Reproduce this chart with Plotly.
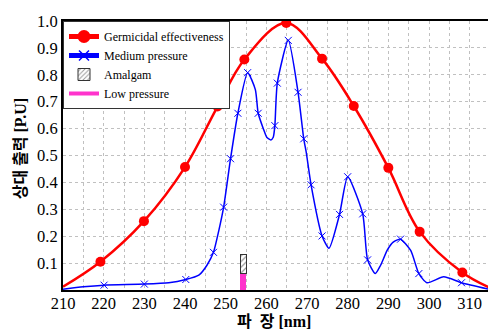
import plotly.graph_objects as go

# Germicidal effectiveness (curve points; first/last are unmarked curve ends)
germ_x = [210, 219.2, 229.9, 240.0, 248.0, 254.6, 264.9, 273.7, 281.5, 290.0, 297.7, 308.2, 315]
germ_y = [0.012, 0.105, 0.256, 0.457, 0.682, 0.857, 0.993, 0.86, 0.684, 0.454, 0.217, 0.065, 0.008]
germ_mark_x = [219.2, 229.9, 240.0, 248.0, 254.6, 264.9, 273.7, 281.5, 290.0, 297.7, 308.2]
germ_mark_y = [0.105, 0.256, 0.457, 0.682, 0.857, 0.993, 0.86, 0.684, 0.454, 0.217, 0.065]

# Medium pressure spectrum (curve readings including unmarked extrema)
med_x = [210, 215, 220.1, 230.0, 236, 240.2, 243.4, 245.4, 247.0, 248.3, 249.5, 251.2, 253.0, 255.4,
         257.3, 258.0, 259.3, 260.1, 261.1, 261.7, 262.1, 262.7, 265.4, 267.8, 269.2, 269.8, 271.0,
         273.7, 275.4, 278.0, 280.0, 283.7, 284.9, 286.8, 288.1, 289.8, 291.2, 293.0, 295.5, 297.5, 299.5,
         303.6, 308.0, 314.7]
med_y = [0.003, 0.012, 0.018, 0.022, 0.027, 0.039, 0.055, 0.092, 0.140, 0.22, 0.308, 0.488, 0.657, 0.808,
         0.745, 0.657, 0.598, 0.568, 0.558, 0.568, 0.611, 0.769, 0.928, 0.735, 0.562, 0.513, 0.391,
         0.201, 0.155, 0.281, 0.421, 0.283, 0.112, 0.061, 0.092, 0.150, 0.178, 0.189, 0.147, 0.061, 0.027,
         0.049, 0.027, 0.003]
med_mark_x = [220.1, 230.0, 240.2, 247.0, 249.5, 251.2, 253.0, 255.4, 258.0, 262.1, 262.7, 265.4,
              267.8, 269.2, 271.0, 273.7, 278.0, 280.0, 283.7, 284.9, 293.0, 297.5, 308.0]
med_mark_y = [0.018, 0.022, 0.039, 0.140, 0.308, 0.488, 0.657, 0.808, 0.657, 0.611, 0.769, 0.928,
              0.735, 0.562, 0.391, 0.201, 0.281, 0.421, 0.283, 0.112, 0.189, 0.061, 0.027]

# Lamp lines (stacked bar at ~254 nm)
bar_x = [254.35]
low_pressure = [0.061]
amalgam = [0.071]

x_ticks = [210, 220, 230, 240, 250, 260, 270, 280, 290, 300, 310]
y_ticks = [0.1, 0.2, 0.3, 0.4, 0.5, 0.6, 0.7, 0.8, 0.9, 1.0]

RED = "#ff0000"
BLUE = "#0000ff"
PINK = "#ff33cc"
SERIF = "Liberation Serif"
TITLE_FONT = "Liberation Serif, Noto Sans CJK KR"

fig = go.Figure()

hatch = dict(shape="/", fgcolor="#333333", bgcolor="white", size=4, solidity=0.3)

# data traces
fig.add_trace(go.Bar(x=bar_x, y=low_pressure, width=1.5, marker=dict(color=PINK, line=dict(width=0)),
                     showlegend=False))
fig.add_trace(go.Bar(x=bar_x, y=amalgam, width=1.5,
                     marker=dict(color="white", line=dict(color="#333333", width=1), pattern=hatch),
                     showlegend=False))
fig.add_trace(go.Scatter(x=germ_x, y=germ_y, mode="lines", line=dict(color=RED, width=2.5, shape="spline", smoothing=1),
                         showlegend=False, hoverinfo="skip"))
fig.add_trace(go.Scatter(x=germ_mark_x, y=germ_mark_y, mode="markers", marker=dict(color=RED, size=10, symbol="circle"),
                         showlegend=False))
fig.add_trace(go.Scatter(x=med_x, y=med_y, mode="lines", line=dict(color=BLUE, width=1.5, shape="spline", smoothing=0.6),
                         showlegend=False, hoverinfo="skip"))
fig.add_trace(go.Scatter(x=med_mark_x, y=med_mark_y, mode="markers",
                         marker=dict(color=BLUE, size=7, symbol="x-thin", line=dict(color=BLUE, width=1)),
                         showlegend=False))

# legend-only traces
fig.add_trace(go.Scatter(x=[None], y=[None], mode="lines+markers", name="Germicidal effectiveness",
                         line=dict(color=RED, width=5), marker=dict(color=RED, size=13)))
fig.add_trace(go.Scatter(x=[None], y=[None], mode="lines+markers", name="Medium pressure",
                         line=dict(color=BLUE, width=5),
                         marker=dict(color=BLUE, size=10, symbol="x-thin", line=dict(color=BLUE, width=1.5))))
fig.add_trace(go.Bar(x=[None], y=[None], name="Amalgam",
                     marker=dict(color="white", line=dict(color="#333333", width=1), pattern=hatch)))
fig.add_trace(go.Scatter(x=[None], y=[None], mode="lines", name="Low pressure", line=dict(color=PINK, width=4)))

# page body has an 8px default margin, so the figure is sized/offset to fit the 496x329 window
fig.update_layout(
    width=488, height=321,
    margin=dict(l=55, r=4, t=9, b=39),
    paper_bgcolor="white", plot_bgcolor="white",
    barmode="stack",
    font=dict(family=SERIF, color="black"),
    legend=dict(x=0, y=1, xanchor="left", yanchor="top", traceorder="normal",
                bgcolor="white", bordercolor="#333333", borderwidth=1,
                font=dict(family=SERIF, size=12, color="black"),
                itemwidth=30, tracegroupgap=0),
    xaxis=dict(range=[210, 315], tickvals=x_ticks, ticks="", tickfont=dict(size=16.5, family=SERIF),
               ticklabelstandoff=-3, ticklabeloverflow="allow",
               showgrid=True, gridcolor="#c0c0c0", griddash="dot", gridwidth=1,
               minor=dict(dtick=5, tick0=210, showgrid=True, gridcolor="#c0c0c0", griddash="dot", gridwidth=1),
               showline=True, linecolor="black", linewidth=2, mirror=True, zeroline=False),
    yaxis=dict(range=[0, 1.0], tickvals=y_ticks, ticktext=[f"{v:.1f}" for v in y_ticks], ticks="",
               tickfont=dict(size=16.5, family=SERIF), ticklabeloverflow="allow",
               showgrid=True, gridcolor="#c0c0c0", griddash="dot", gridwidth=1,
               showline=True, linecolor="black", linewidth=2, mirror=True, zeroline=False),
    annotations=[
        dict(text="<b>파\u00a0 장 [nm]</b>", x=0.493, y=-0.118, xref="paper", yref="paper",
             xanchor="center", yanchor="middle", showarrow=False, font=dict(size=16, family=TITLE_FONT)),
        dict(text="<b>상대 출력 [P.U]</b>", x=-0.1, y=0.524, xref="paper", yref="paper", textangle=-90,
             xanchor="center", yanchor="middle", showarrow=False, font=dict(size=16, family=TITLE_FONT)),
    ],
)

fig.write_html("out.html")
